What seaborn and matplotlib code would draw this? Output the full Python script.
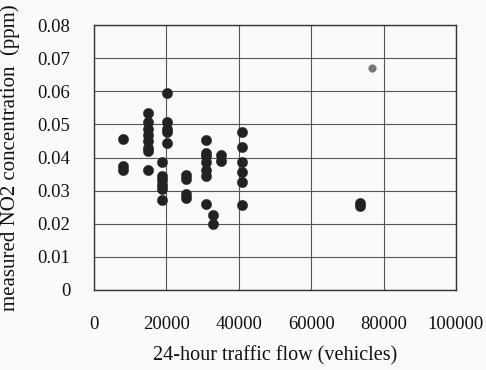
import matplotlib
matplotlib.use("Agg")
import matplotlib.pyplot as plt
import seaborn as sns
import pandas as pd

traffic = [8070, 8070, 8070,
           15050, 15050, 15050, 15050, 15050, 15050, 15050, 15050,
           20280, 20280, 20280, 20280, 20280,
           18900, 18900, 18900, 18900, 18900, 18900,
           25500, 25500, 25500, 25500,
           31000, 31000, 31000, 31000, 31000, 31000, 31000,
           32750, 32750,
           34950, 34950,
           40900, 40900, 40900, 40900, 40900, 40900,
           73480, 73480]
no2 = [0.0456, 0.0374, 0.0361,
       0.0533, 0.0508, 0.0485, 0.0468, 0.0450, 0.0429, 0.0421, 0.0361,
       0.0594, 0.0508, 0.0485, 0.0477, 0.0444,
       0.0387, 0.0345, 0.0333, 0.0318, 0.0305, 0.0271,
       0.0346, 0.0336, 0.0291, 0.0277,
       0.0454, 0.0414, 0.0406, 0.0387, 0.0361, 0.0345, 0.0260,
       0.0226, 0.0198,
       0.0409, 0.0389,
       0.0477, 0.0433, 0.0385, 0.0355, 0.0326, 0.0257,
       0.0262, 0.0255]
outlier_traffic = [76880]
outlier_no2 = [0.0670]

xticks = [0, 20000, 40000, 60000, 80000, 100000]
yticks = [0, 0.01, 0.02, 0.03, 0.04, 0.05, 0.06, 0.07, 0.08]
ytick_labels = ["0", "0.01", "0.02", "0.03", "0.04", "0.05", "0.06", "0.07", "0.08"]

df = pd.DataFrame({"traffic": traffic, "no2": no2})
df_out = pd.DataFrame({"traffic": outlier_traffic, "no2": outlier_no2})

sns.set_style("white")
plt.rcParams["font.family"] = ["Liberation Serif", "DejaVu Serif"]

fig = plt.figure(figsize=(4.86, 3.70), dpi=100, facecolor="#fafafa")
ax = fig.add_axes([94/486, 1 - 290/370, (456-94)/486, (290-25)/370])
ax.set_facecolor("#fafafa")

sns.scatterplot(data=df, x="traffic", y="no2", ax=ax, s=55, color="#222222",
                edgecolor="#222222", linewidth=0.3, zorder=3)
sns.scatterplot(data=df_out, x="traffic", y="no2", ax=ax, s=30, color="#777777",
                edgecolor="#666666", linewidth=0.3, zorder=3)

ax.set_xlim(0, 100000)
ax.set_ylim(0, 0.08)
ax.set_xticks(xticks)
ax.set_xticklabels([str(v) for v in xticks])
ax.set_yticks(yticks)
ax.set_yticklabels(ytick_labels)
ax.grid(True, color="#555555", linewidth=0.8, linestyle="-")
ax.set_axisbelow(True)
for s in ax.spines.values():
    s.set_color("#333333")
    s.set_linewidth(1.0)
ax.tick_params(axis="both", direction="out", length=5, width=0.8, color="#333333",
               labelsize=13.5, labelcolor="#111111")
ax.tick_params(axis="x", pad=14)
ax.tick_params(axis="y", pad=12)
ax.set_xlabel("24-hour traffic flow (vehicles)", fontsize=14.5, color="#111111")
ax.set_ylabel("measured NO2 concentration  (ppm)", fontsize=15, color="#111111")
ax.xaxis.set_label_coords(0.5, -56/265, transform=ax.transAxes)
ax.yaxis.set_label_coords(-74/362, 0.5, transform=ax.transAxes)

fig.savefig("out.png", dpi=100, facecolor=fig.get_facecolor())
